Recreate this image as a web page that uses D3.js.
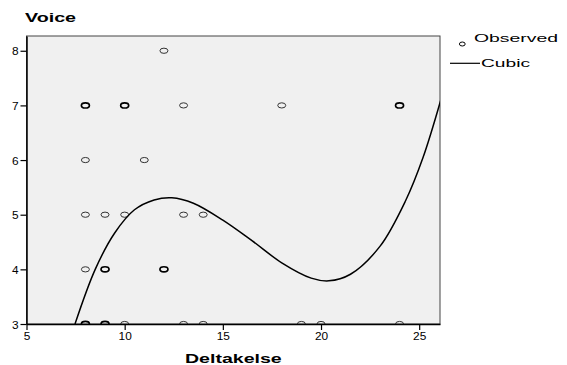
<!DOCTYPE html>
<html>
<head>
<meta charset="utf-8">
<script src="https://cdn.jsdelivr.net/npm/d3@7"></script>
<style>
body{margin:0;background:#fff;}
svg{display:block;font-family:Arial,"Liberation Sans",sans-serif;}
</style>
</head>
<body>
<svg width="567" height="365"></svg>
<script>
// observed points (Deltakelse, Voice), repeated where the picture shows overplotted circles
var obsX=[12, 8,8,10,10,13,18,24,24, 8,11, 8,9,10,13,14, 8,9,9,12,12, 8,8,9,9,10,13,14,19,20,24];
var obsY=[8, 7,7,7,7,7,7,7,7, 6,6, 5,5,5,5,5, 4,4,4,4,4, 3,3,3,3,3,3,3,3,3,3];

// cubic fit line
var fitX=[7.47,8.5,9.5,10.5,11.5,12.4,13.5,15,16.5,18,19.5,20.4,21.5,23,24.3,25.2,26.15];
var fitY=[3.0,4.0,4.67,5.09,5.27,5.31,5.21,4.9,4.52,4.12,3.84,3.79,3.91,4.42,5.25,6.05,7.16];

var xTicks=[5,10,15,20,25];
var yTicks=[3,4,5,6,7,8];

window.onload=function()
{
	var left=26.5, right=440, top=36, bottom=324;
	var svg=d3.select("svg");

	var scalex=d3.scaleLinear()
		.domain([5,26.06])
		.range([left,right]);
	var scaley=d3.scaleLinear()
		.domain([3,8.27])
		.range([bottom,top]);

	svg.append("defs").append("clipPath").attr("id","plot")
		.append("rect").attr("x",left).attr("y",top)
		.attr("width",right-left).attr("height",bottom-top);

	svg.append("rect")
		.attr("x",left).attr("y",top)
		.attr("width",right-left).attr("height",bottom-top)
		.attr("fill","#f0f0f0")
		.attr("stroke","#444").attr("stroke-width",1);

	// count duplicates so overplotted circles come out darker
	var pts=obsX.map((x,i)=>({x:x,y:obsY[i]}));
	var counts=d3.rollup(pts,v=>v.length,d=>d.x+"_"+d.y);
	var uniq=Array.from(counts,([k,n])=>{var p=k.split("_");return {x:+p[0],y:+p[1],n:n};});

	var g=svg.append("g").attr("clip-path","url(#plot)");

	g.selectAll(".obs")
		.data(uniq)
		.enter()
		.append("ellipse")
		.classed("obs",true)
		.attr("cx",d=>scalex(d.x))
		.attr("cy",d=>scaley(d.y))
		.attr("rx",4)
		.attr("ry",2.6)
		.attr("fill","none")
		.attr("stroke",d=>d.n>1?"#000":"#333")
		.attr("stroke-width",d=>d.n>1?1.7:1);

	var line=d3.line()
		.x(d=>scalex(d[0]))
		.y(d=>scaley(d[1]))
		.curve(d3.curveCatmullRom.alpha(0.5));

	g.append("path")
		.datum(fitX.map((x,i)=>[x,fitY[i]]))
		.attr("d",line)
		.attr("fill","none")
		.attr("stroke","#000")
		.attr("stroke-width",1.5);

	var xaxis=d3.axisBottom(scalex).tickValues(xTicks).tickFormat(d3.format("d")).tickSize(6).tickSizeOuter(0);
	var yaxis=d3.axisLeft(scaley).tickValues(yTicks).tickFormat(d3.format("d")).tickSize(6).tickSizeOuter(0);

	var gx=svg.append("g")
		.attr("transform","translate(0,"+bottom+")")
		.call(xaxis);
	var gy=svg.append("g")
		.attr("transform","translate("+left+",0)")
		.call(yaxis);

	[gx,gy].forEach(function(a){
		a.select(".domain").attr("stroke","#000").attr("stroke-width",1.5);
		a.selectAll(".tick line").attr("stroke","#000").attr("stroke-width",1.2);
		a.selectAll(".tick text")
			.attr("font-size","10px")
			.attr("fill","#000")
			.attr("textLength",d=>String(d).length*6.6)
			.attr("lengthAdjust","spacingAndGlyphs");
	});
	gx.selectAll(".tick text").attr("y",9);
	gy.selectAll(".tick text").attr("x",-8).attr("dy","0.4em");

	// the source picture is stretched sideways, so text gets a fixed width
	svg.append("text").attr("x",25).attr("y",21.5).text("Voice")
		.style("font-size","12px").style("font-weight","bold")
		.attr("textLength",51).attr("lengthAdjust","spacingAndGlyphs");

	svg.append("text").attr("x",185).attr("y",362.5).text("Deltakelse")
		.style("font-size","13px").style("font-weight","bold")
		.attr("textLength",96.7).attr("lengthAdjust","spacingAndGlyphs");

// Handmade legend
	svg.append("ellipse").attr("cx",462.3).attr("cy",44).attr("rx",2.9).attr("ry",2)
		.attr("fill","none").attr("stroke","#000").attr("stroke-width",1);
	svg.append("line").attr("x1",450).attr("x2",480).attr("y1",63.3).attr("y2",63.3)
		.attr("stroke","#000").attr("stroke-width",1.2);
	svg.append("text").attr("x",474).attr("y",42).text("Observed")
		.style("font-size","11.5px")
		.attr("textLength",84).attr("lengthAdjust","spacingAndGlyphs");
	svg.append("text").attr("x",481).attr("y",66.7).text("Cubic")
		.style("font-size","11.5px")
		.attr("textLength",49).attr("lengthAdjust","spacingAndGlyphs");
}
</script>
</body>
</html>
